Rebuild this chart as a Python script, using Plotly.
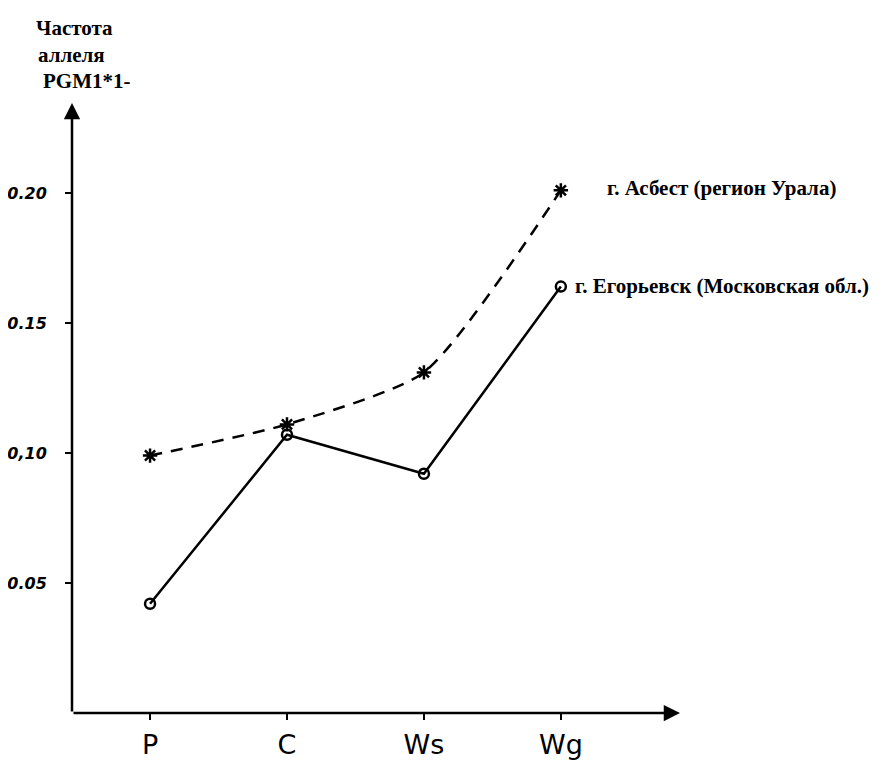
import plotly.graph_objects as go

categories = ["P", "C", "Ws", "Wg"]
asbest = [0.099, 0.111, 0.131, 0.201]
egorievsk = [0.042, 0.107, 0.092, 0.164]
y_ticks = [0.05, 0.10, 0.15, 0.20]
y_tick_labels = ["0.05", "0,10", "0.15", "0.20"]
asbest_name = "г. Асбест (регион Урала)"
egorievsk_name = "г. Егорьевск (Московская обл.)"
y_title_lines = ["Частота", "аллеля", "PGM1*1-"]

xs = list(range(len(categories)))

# page body has an 8px margin, so the figure is offset by 8px
OFF = 8
W, H = 884 - OFF, 770 - OFF
ML, MR, MT, MB = 72 - OFF, 204, 103 - OFF, 57
PW, PH = W - ML - MR, H - MT - MB


def px_to_paper(px, py):
    # px, py are screenshot pixel coordinates
    return (px - OFF - ML) / PW, 1 - (py - OFF - MT) / PH


fig = go.Figure()

fig.add_trace(go.Scatter(
    x=xs, y=asbest, mode="lines+markers", name=asbest_name,
    line=dict(color="black", width=2.5, dash="12px,9px", shape="spline", smoothing=0.6),
    marker=dict(symbol="asterisk", size=12, line=dict(color="black", width=2.5)),
    cliponaxis=False, showlegend=False,
))
fig.add_trace(go.Scatter(
    x=xs, y=egorievsk, mode="lines+markers", name=egorievsk_name,
    line=dict(color="black", width=2.5),
    marker=dict(symbol="circle-open", size=10, color="black", line=dict(color="black", width=2.5)),
    cliponaxis=False, showlegend=False,
))

# series labels at right end
fig.add_annotation(x=xs[-1], y=asbest[-1], text=asbest_name, showarrow=False,
                   xanchor="left", xshift=44, yshift=2,
                   font=dict(family="Liberation Serif", size=21, color="black", weight="bold"))
fig.add_annotation(x=xs[-1], y=egorievsk[-1], text=egorievsk_name, showarrow=False,
                   xanchor="left", xshift=12, yshift=1,
                   font=dict(family="Liberation Serif", size=21, color="black", weight="bold"))

# axis title lines
title_pos = [(34, 28), (36, 55), (41, 81)]
for line, (px, py) in zip(y_title_lines, title_pos):
    tx, ty = px_to_paper(px, py)
    fig.add_annotation(xref="paper", yref="paper", x=tx, y=ty, text=line, showarrow=False,
                       xanchor="left", yanchor="middle",
                       font=dict(family="Liberation Serif", size=21, color="black", weight="bold"))

# axis arrows
fig.add_annotation(xref="paper", yref="paper", x=0, y=1, ax=0, ay=PH, text="",
                   showarrow=True, arrowhead=2, arrowsize=1.3, arrowwidth=2.5, arrowcolor="black")
fig.add_annotation(xref="paper", yref="paper", x=1, y=0, ax=-PW, ay=0, text="",
                   showarrow=True, arrowhead=2, arrowsize=1.3, arrowwidth=2.5, arrowcolor="black")

fig.update_layout(
    width=W, height=H,
    margin=dict(l=ML, r=MR, t=MT, b=MB, autoexpand=False),
    paper_bgcolor="white", plot_bgcolor="white",
    showlegend=False,
    xaxis=dict(range=[-0.57, 3.87], tickmode="array", tickvals=xs, ticktext=categories,
               showgrid=False, zeroline=False, showline=False, automargin=False,
               ticks="outside", ticklen=6, tickwidth=2, tickcolor="black",
               tickfont=dict(family="DejaVu Sans", size=27, color="black"),
               ticklabelstandoff=2),
    yaxis=dict(range=[0, 0.2346], tickmode="array", tickvals=y_ticks, ticktext=y_tick_labels,
               showgrid=False, zeroline=False, showline=False, automargin=False,
               ticks="outside", ticklen=6, tickwidth=2, tickcolor="black",
               tickfont=dict(family="DejaVu Sans", size=16, color="black", style="italic", weight="bold"),
               ticklabelstandoff=15),
)

fig.write_html("out.html")
